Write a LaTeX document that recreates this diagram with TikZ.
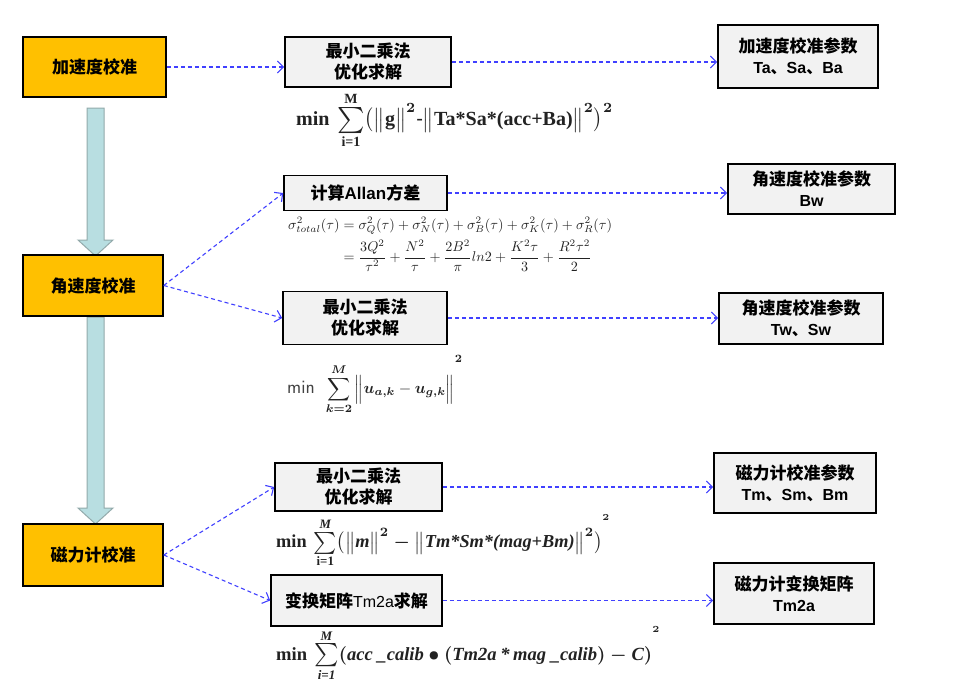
\documentclass[tikz,border=0pt]{standalone}
\usepackage{fontspec}
\usepackage{amsmath,amssymb,bm}
\usepackage{graphicx}
\setmainfont{Liberation Sans}
\newfontfamily\cjk{Noto Sans CJK SC}
\newfontfamily\tms{Liberation Serif}
\usetikzlibrary{arrows.meta,calc}
\definecolor{orangeA}{HTML}{FFC000}
\definecolor{grayA}{HTML}{F2F2F2}
\definecolor{arrblue}{HTML}{4040FF}
\definecolor{bigfill}{HTML}{B8DEE1}
\definecolor{bigdraw}{HTML}{93AAAB}
\definecolor{fgray}{HTML}{222222}
\newcommand\tb[1]{\text{\tms\bfseries #1}}
\newcommand\tbi[1]{\text{\tms\bfseries\itshape #1}}
\newcommand\bsum[1]{\mathop{\vcenter{\hbox{\scalebox{#1}{$\textstyle\sum$}}}}\limits}
\begin{document}
\begin{tikzpicture}[x=1pt,y=-1pt]
\tikzset{
  obox/.style={draw=black, line width=1.6pt, fill=orangeA, align=center,
    font=\cjk\bfseries\fontsize{17}{22}\selectfont, inner sep=0pt},
  gbox/.style={draw=black, line width=1.6pt, fill=grayA, align=center,
    font=\cjk\bfseries\fontsize{17}{21}\selectfont, inner sep=0pt},
  dasharr/.style={draw=arrblue, line width=1.1pt, dash pattern=on 4pt off 3pt,
    -{Straight Barb[length=6pt,width=12pt,line width=1.1pt]}},
  bigarr/.style={fill=bigfill, draw=bigdraw, line width=1pt},
  formula/.style={anchor=west, inner sep=0pt, text=fgray}
}
\useasboundingbox (0,0) rectangle (955,686);
\fill[white] (0,0) rectangle (955,686);

% big arrows
\draw[bigarr] (87,108) -- (104,108) -- (104,240) -- (113,240) -- (95.5,256) -- (78,240) -- (87,240) -- cycle;
\draw[bigarr] (87,317) -- (104,317) -- (104,508) -- (113,508) -- (95.5,524) -- (78,508) -- (87,508) -- cycle;

% left boxes
\node[obox, minimum width=143pt, minimum height=60pt] (oa) at (94.5,67) {加速度校准};
\node[obox, minimum width=140pt, minimum height=61pt] (og) at (93,285.5) {角速度校准};
\node[obox, minimum width=140pt, minimum height=62pt] (om) at (93,555) {磁力计校准};

% middle boxes
\node[gbox, minimum width=166pt, minimum height=50pt] (b1) at (368,62) {最小二乘法\\优化求解};
\node[gbox, minimum width=163pt, minimum height=35pt] (ba) at (365.5,193) {计算{\rmfamily\bfseries Allan}方差};
\node[gbox, minimum width=164pt, minimum height=53pt] (b2) at (365,318) {最小二乘法\\优化求解};
\node[gbox, minimum width=167pt, minimum height=48pt] (b3) at (358.5,487) {最小二乘法\\优化求解};
\node[gbox, minimum width=171pt, minimum height=51pt] (b4) at (356.5,600.5) {变换矩阵{\rmfamily\mdseries\fontsize{16}{20}\selectfont Tm2a}求解};

% right boxes
\node[gbox, minimum width=160pt, minimum height=63pt] (p1) at (798,56.5) {加速度校准参数\\{\rmfamily\bfseries\fontsize{16}{20}\selectfont Ta{\cjk 、}Sa{\cjk 、}Ba}};
\node[gbox, minimum width=167pt, minimum height=50pt] (pw) at (811.5,189) {角速度校准参数\\{\rmfamily\bfseries\fontsize{16}{20}\selectfont Bw}};
\node[gbox, minimum width=164pt, minimum height=51pt] (pt) at (801,318.5) {角速度校准参数\\{\rmfamily\bfseries\fontsize{16}{20}\selectfont Tw{\cjk 、}Sw}};
\node[gbox, minimum width=162pt, minimum height=60pt] (pm) at (795,483) {磁力计校准参数\\{\rmfamily\bfseries\fontsize{16}{20}\selectfont Tm{\cjk 、}Sm{\cjk 、}Bm}};
\node[gbox, minimum width=160pt, minimum height=61pt] (pc) at (794,593.5) {磁力计变换矩阵\\{\rmfamily\bfseries\fontsize{16}{20}\selectfont Tm2a}};

% dashed connectors
\draw[dasharr] (oa.east) -- (oa.east -| b1.west);
\draw[dasharr] (b1.east) -- (b1.east -| p1.west);
\draw[dasharr] (og.east) -- (ba.west);
\draw[dasharr] (og.east) -- (b2.west);
\draw[dasharr] (ba.east) -- (ba.east -| pw.west);
\draw[dasharr] (b2.east) -- (b2.east -| pt.west);
\draw[dasharr] (om.east) -- (b3.west);
\draw[dasharr] (om.east) -- (b4.west);
\draw[dasharr] (b3.east) -- (b3.east -| pm.west);
\draw[dasharr] (b4.east) -- (b4.east -| pc.west);

% formulas
\node[formula] (f1) at (296,120) {\resizebox{317pt}{!}{\boldmath$\tb{min}\,\bsum{1.3}_{\tb{i=1}}^{\tb{M}}\bigl(\bigl\|\tb{g}\bigr\|^2\text{-}\bigl\|\tb{Ta*Sa*(acc+Ba)}\bigr\|^2\bigr)^2$}};
\node[formula] (f2) at (288,244) {\resizebox{324pt}{!}{$\begin{aligned}\sigma^2_{total}(\tau)&=\sigma^2_Q(\tau)+\sigma^2_N(\tau)+\sigma^2_B(\tau)+\sigma^2_K(\tau)+\sigma^2_R(\tau)\\&=\frac{3Q^2}{\tau^2}+\frac{N^2}{\tau}+\frac{2B^2}{\pi}ln2+\frac{K^2\tau}{3}+\frac{R^2\tau^2}{2}\end{aligned}$}};
\node[formula] (f3) at (287,385) {{\color{fgray!85}\sffamily\fontsize{19}{19}\selectfont min}\hspace{11pt}\resizebox{137pt}{!}{$\displaystyle\sum_{\bm{k=2}}^{\bm{M}}\left\|\vphantom{\displaystyle\sum}\bm{u}_{\bm{a,k}}-\bm{u}_{\bm{g,k}}\right\|^{\raisebox{10pt}{$\scriptstyle\bm 2$}}$}};
\node[formula] (f4) at (276,541) {\resizebox{334pt}{!}{\boldmath$\tb{min}\,\bsum{1.2}_{\tb{i=1}}^{\tbi{M}}\bigl(\bigl\|\tbi{m}\bigr\|^2-\bigl\|\tbi{Tm*Sm*(mag+Bm)}\bigr\|^2\bigr)^{\raisebox{9pt}{$\scriptscriptstyle 2$}}$}};
\node[formula] (f5) at (276,654) {\resizebox{384pt}{!}{\boldmath$\tb{min}\,\bsum{1.25}_{\tbi{i=1}}^{\tbi{M}}(\tbi{acc \_calib}\bullet(\tbi{Tm2a}\,\tbi{*}\,\tbi{mag \_calib})-\tbi{C})^{\raisebox{11pt}{$\scriptscriptstyle 2$}}$}};
\end{tikzpicture}
\end{document}
